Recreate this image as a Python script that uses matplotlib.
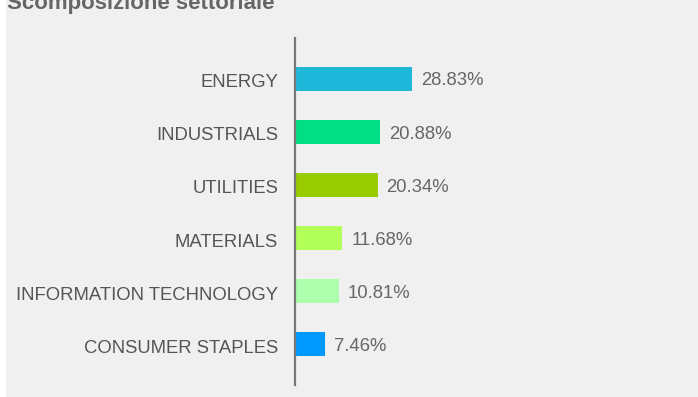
import matplotlib.pyplot as plt
from matplotlib.transforms import ScaledTranslation

sectors = ["ENERGY", "INDUSTRIALS", "UTILITIES", "MATERIALS",
           "INFORMATION TECHNOLOGY", "CONSUMER STAPLES"]
weights = [28.83, 20.88, 20.34, 11.68, 10.81, 7.46]
colors = ["#20b8da", "#00df85", "#99cc00", "#b2ff59", "#adffad", "#0099ff"]

plt.rcParams["font.family"] = ["Liberation Sans", "DejaVu Sans"]

bg = "#f0f0f0"
fig = plt.figure(figsize=(6.98, 3.97), dpi=100)
fig.patch.set_facecolor("white")
# grey panel behind the chart
fig.patches.append(plt.Rectangle((6 / 698, 0), 1, 1, transform=fig.transFigure,
                                 facecolor=bg, edgecolor="none", zorder=-10))

ax = fig.add_axes([295 / 698, 12 / 397, 395 / 698, 347 / 397])
ax.set_facecolor(bg)

y = list(range(len(sectors)))
ax.barh(y, weights, height=0.45, color=colors)
for yi, w in zip(y, weights):
    ax.text(w + 2.2, yi + 0.04, f"{w:.2f}%", va="center", ha="left",
            fontsize=13.3, color="#666666")

ax.set_xlim(0, 395 / 4.06)
ax.set_ylim(len(sectors) - 1 + 0.77, -0.77)
ax.set_yticks(y, sectors)
ax.tick_params(axis="y", length=0, pad=12.2, labelsize=13.3, labelcolor="#555555")
# nudge the category names down a touch
shift = ScaledTranslation(0, -2 / 100, fig.dpi_scale_trans)
for lbl in ax.get_yticklabels():
    lbl.set_transform(lbl.get_transform() + shift)
ax.set_xticks([])
for side in ["top", "right", "bottom"]:
    ax.spines[side].set_visible(False)
ax.spines["left"].set_color("#777777")
ax.spines["left"].set_linewidth(1.6)

fig.text(7 / 698, 1 + 7 / 397, "Scomposizione settoriale", fontsize=16,
         fontweight="bold", color="#666666", ha="left", va="top")

fig.savefig("out.png", dpi=100, facecolor=fig.get_facecolor())
